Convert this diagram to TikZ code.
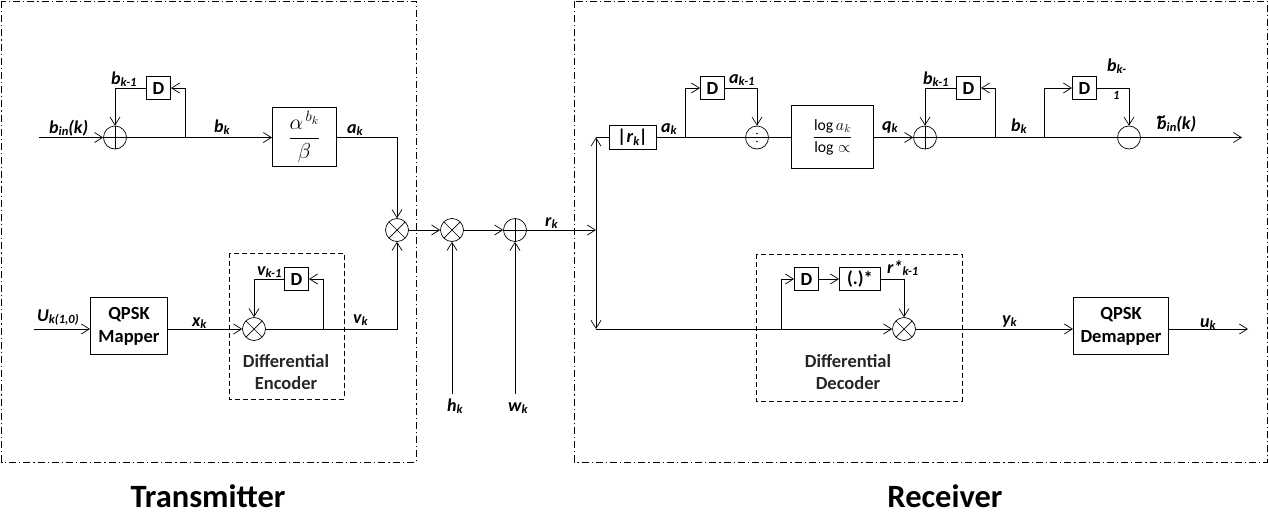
\documentclass[tikz,border=0pt]{standalone}
\usepackage{fontspec}
\usepackage{amsmath}
\setmainfont{Carlito}
\usetikzlibrary{arrows.meta}
\newcommand{\lab}[2]{{\fontsize{18}{20}\selectfont\bfseries\itshape #1\raisebox{-2.5pt}{\fontsize{12.5}{13}\selectfont #2}}}
\tikzset{
  wire/.style={line width=1pt,black},
  arr/.style={wire,-{Straight Barb[length=8pt,width=10pt,line width=0.7pt]}},
  block/.style={draw,line width=1pt,inner sep=0pt,anchor=north west,align=center,font=\fontsize{18.5}{23}\selectfont\bfseries},
  op/.style={circle,draw,line width=0.7pt,minimum size=23pt,inner sep=0pt},
  crossop/.style={op,path picture={\draw[line width=0.7pt] (path picture bounding box.north west)--(path picture bounding box.south east) (path picture bounding box.north east)--(path picture bounding box.south west);}},
  plusop/.style={op,path picture={\draw[line width=0.7pt] (path picture bounding box.north)--(path picture bounding box.south) (path picture bounding box.west)--(path picture bounding box.east);}},
  minusop/.style={op,path picture={\draw[line width=0.7pt] (path picture bounding box.west)--(path picture bounding box.east);}},
  divop/.style={op,path picture={\fill ([yshift=4pt]path picture bounding box.center) circle (0.8pt);\fill ([yshift=-4pt]path picture bounding box.center) circle (0.8pt);\draw[line width=0.7pt] (path picture bounding box.west)--(path picture bounding box.east);}},
  tag/.style={anchor=base west,inner sep=0pt},
  capt/.style={align=center,inner sep=0pt,font=\fontsize{18.5}{22}\selectfont\bfseries,text=black!85},
  title/.style={inner sep=0pt,anchor=base,font=\fontsize{32.5}{34}\selectfont\bfseries},
  frameA/.style={line width=0.7pt,dash pattern=on 7pt off 3pt on 1.2pt off 3pt},
  frameB/.style={line width=0.7pt,dash pattern=on 5pt off 3pt},
}
\begin{document}
\begin{tikzpicture}[x=1pt,y=-1pt]
\useasboundingbox (0,0) rectangle (1269,517);
% frames
\draw[frameA] (1.5,1) rectangle (416,462);
\draw[frameA] (574,1) rectangle (1267.5,462);
\draw[frameB] (229,253) rectangle (344,399);
\draw[frameB] (756,254) rectangle (962,401);

% transmitter top
\coordinate (binstart) at (39,137.5);
\node[plusop] (s1) at (115,137.5) {};
\node[block,minimum width=24pt,minimum height=23pt] (d1) at (146,76) {D};
\coordinate (j1) at (185.5,137.5);
\node[block,minimum width=64pt,minimum height=59pt] (abox) at (272,107) {\scalebox{1.25}{$\dfrac{\alpha^{\,b_k}}{\beta}$}};
\node[crossop] (m1) at (397,230) {};
\coordinate (aout) at (abox.east |- s1);
\draw[arr] (binstart) -- (s1.west);
\draw[wire] (s1.east) -- (j1);
\draw[arr] (j1) -- (abox.west |- s1);
\draw[arr] (j1) |- (d1.east);
\draw[arr] (d1.west) -| (s1.north);
\draw[arr] (aout) -| (m1.north);

% transmitter bottom
\coordinate (ustart) at (34,329);
\node[block,minimum width=77pt,minimum height=57pt] (qm) at (90,297) {QPSK\\Mapper};
\node[crossop] (m0) at (254,329) {};
\node[block,minimum width=24pt,minimum height=23pt] (d0) at (284,267) {D};
\coordinate (j0) at (323,329);
\draw[arr] (ustart) -- (qm.west |- ustart);
\draw[arr] (qm.east |- ustart) -- (m0.west);
\draw[wire] (m0.east) -- (j0);
\draw[arr] (j0) |- (d0.east);
\draw[arr] (d0.west) -| (m0.north);
\draw[arr] (j0) -| (m1.south);
\node[capt] (denc) at (286,372) {Differential\\Encoder};

% channel
\node[crossop] (m2) at (452,230) {};
\node[plusop] (s2) at (515,230) {};
\coordinate (hs) at (452,394);
\coordinate (ws) at (515,394);
\coordinate (rj) at (596,230);
\draw[arr] (m1.east) -- (m2.west);
\draw[arr] (m2.east) -- (s2.west);
\draw[arr] (s2.east) -- (rj);
\draw[arr] (hs) -- (m2.south);
\draw[arr] (ws) -- (s2.south);

% receiver top
\coordinate (rtop) at (596,137.5);
\coordinate (rbot) at (596,329);
\node[block,minimum width=47pt,minimum height=24pt,font=\fontsize{18.5}{20}\selectfont\bfseries\itshape] (rabs) at (609,125) {|r\raisebox{-2.5pt}{\fontsize{12.5}{13}\selectfont k}|};
\draw[arr] (rj) -- (rtop);
\draw[arr] (rj) -- (rbot);
\draw[wire] (rtop) -- (rabs.west |- rtop);
\coordinate (j2) at (685,137.5);
\node[block,minimum width=24pt,minimum height=23pt] (d2) at (700,76) {D};
\node[divop] (dv) at (757,137.5) {};
\node[block,minimum width=82pt,minimum height=63pt,font=\fontsize{14}{16}\selectfont] (lbox) at (791,105) {\scalebox{1.12}{$\dfrac{\log a_k}{\log \propto}$}};
\node[plusop] (s3) at (925,137.5) {};
\node[block,minimum width=24pt,minimum height=23pt] (d3) at (956,76) {D};
\coordinate (j3) at (995,137.5);
\coordinate (j4) at (1044,137.5);
\node[block,minimum width=24pt,minimum height=23pt] (d4) at (1072,76) {D};
\node[minusop] (s4) at (1129,137.5) {};
\coordinate (outa) at (1242,137.5);
\draw[wire] (rabs.east |- j2) -- (j2);
\draw[wire] (j2) -- (dv.west);
\draw[arr] (j2) |- (d2.west);
\draw[arr] (d2.east) -| (dv.north);
\draw[wire] (dv.east) -- (lbox.west |- dv);
\draw[arr] (lbox.east |- s3) -- (s3.west);
\draw[wire] (s3.east) -- (j3);
\draw[arr] (j3) |- (d3.east);
\draw[arr] (d3.west) -| (s3.north);
\draw[wire] (j3) -- (j4);
\draw[wire] (j4) -- (s4.west);
\draw[arr] (j4) |- (d4.west);
\draw[arr] (d4.east) -| (s4.north);
\draw[arr] (s4.east) -- (outa);

% receiver bottom
\node[crossop] (m3) at (904,329) {};
\coordinate (j5) at (781,329);
\node[block,minimum width=24pt,minimum height=23pt] (d5) at (794,267) {D};
\node[block,minimum width=41pt,minimum height=23pt] (conj) at (839,267) {(.)*};
\node[block,minimum width=95pt,minimum height=57pt] (qd) at (1073,297) {QPSK\\Demapper};
\coordinate (outb) at (1248,329);
\draw[wire] (rbot) -- (j5);
\draw[arr] (j5) -- (m3.west);
\draw[arr] (j5) |- (d5.west);
\draw[arr] (d5.east) -- (conj.west);
\draw[arr] (conj.east) -| (m3.north);
\draw[arr] (m3.east) -- (qd.west |- m3);
\draw[arr] (qd.east |- m3) -- (outb);
\node[capt] (ddec) at (848,372) {Differential\\Decoder};

% labels
\node[tag] (l1) at (49,133) {\lab{b}{in}\lab{(k)}{}};
\node[tag] (l2) at (111,84) {\lab{b}{k-1}};
\node[tag] (l3) at (214,132) {\lab{b}{k}};
\node[tag] (l4) at (347,133) {\lab{a}{k}};
\node[tag] (l5) at (37,321) {\lab{U}{k(1,0)}};
\node[tag] (l6) at (192,326) {\lab{x}{k}};
\node[tag] (l7) at (257,275) {\lab{v}{k-1}};
\node[tag] (l8) at (353,323) {\lab{v}{k}};
\node[tag] (l9) at (447,411) {\lab{h}{k}};
\node[tag] (l10) at (508,411) {\lab{w}{k}};
\node[tag] (l11) at (545,226) {\lab{r}{k}};
\node[tag] (l12) at (661,132) {\lab{a}{k}};
\node[tag] (l13) at (729,83) {\lab{a}{k-1}};
\node[tag] (l14) at (882,130) {\lab{q}{k}};
\node[tag] (l15) at (923,84) {\lab{b}{k-1}};
\node[tag] (l16) at (1011,131) {\lab{b}{k}};
\node[tag] (l17) at (1107,71) {\lab{b}{k-}};
\node[tag] (l18) at (1113,96.5) {\lab{}{1}};
\node[tag] (l19) at (1157,129) {\lab{\rlap{\raisebox{7pt}{\textasciitilde}}b}{in}\lab{(k)}{}};
\node[tag] (l20) at (887,273) {\lab{r*}{k-1}};
\node[tag] (l21) at (1002,324) {\lab{y}{k}};
\node[tag] (l22) at (1200,327) {\lab{u}{k}};

% titles
\node[title] (tx) at (208,507.5) {Transmitter};
\node[title] (rx) at (945,507.5) {Receiver};
\end{tikzpicture}
\end{document}
